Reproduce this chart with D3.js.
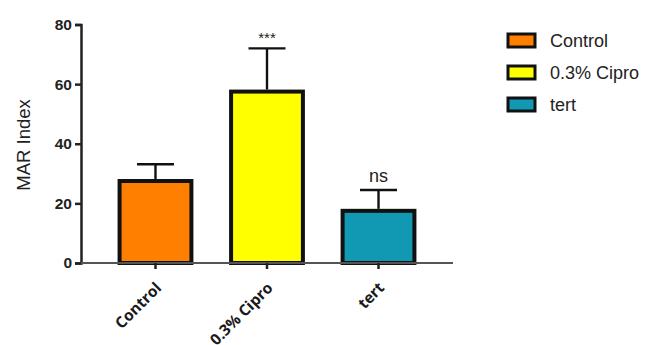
<!DOCTYPE html>
<html>
<head>
<meta charset="utf-8">
<script src="https://cdn.jsdelivr.net/npm/d3@7"></script>
<style>
  html, body { margin: 0; padding: 0; background: #fff; }
  svg { display: block; }
</style>
</head>
<body>
<svg id="chart" width="654" height="345"></svg>
<script>
// MAR index per treatment group (mean and upper SEM)
const categories = ["Control", "0.3% Cipro", "tert"];
const means = [27.5, 57.5, 17.5];
const errors = [5.6, 14.5, 7];
const significance = ["", "***", "ns"];
const colors = ["#FF8000", "#FFFF00", "#1199B4"];
const yTicks = [0, 20, 40, 60, 80];

const svg = d3.select("#chart");
const font = "'Liberation Sans', Arial, sans-serif";
const labelFont = "'Open Sans', 'Liberation Sans', sans-serif";

const x = d3.scaleBand()
  .domain(categories)
  .range([81, 453])
  .paddingInner(0.32)
  .paddingOuter(0.328);

const y = d3.scaleLinear().domain([0, 80]).range([263, 24.5]);

// Y axis
const yAxis = svg.append("g")
  .attr("transform", "translate(81,0)")
  .call(d3.axisLeft(y).tickValues(yTicks).tickSize(6).tickPadding(3));
yAxis.select(".domain").attr("stroke", "#222").attr("stroke-width", 2.5);
yAxis.selectAll(".tick line").attr("stroke", "#222").attr("stroke-width", 2.5);
yAxis.selectAll(".tick text")
  .attr("font-family", font).attr("font-weight", "bold")
  .attr("font-size", 15.5).attr("fill", "#222");

// Bars
svg.append("g").selectAll("rect")
  .data(categories)
  .join("rect")
  .attr("x", d => x(d) + 2)
  .attr("width", x.bandwidth() - 4)
  .attr("y", (d, i) => y(means[i]))
  .attr("height", (d, i) => y(0) - y(means[i]))
  .attr("fill", (d, i) => colors[i])
  .attr("stroke", "#111")
  .attr("stroke-width", 4);

// Upper error bars
const eb = svg.append("g").attr("stroke", "#111").attr("stroke-width", 2.4);
categories.forEach((c, i) => {
  const cx = x(c) + x.bandwidth() / 2;
  const top = y(means[i] + errors[i]);
  eb.append("line").attr("x1", cx).attr("x2", cx)
    .attr("y1", y(means[i]) - 2).attr("y2", top);
  eb.append("line").attr("x1", cx - 18.5).attr("x2", cx + 18.5)
    .attr("y1", top).attr("y2", top);
  if (significance[i]) {
    svg.append("text")
      .attr("x", cx)
      .attr("y", top - (significance[i] === "***" ? 5 : 8))
      .attr("text-anchor", "middle")
      .attr("font-family", font)
      .attr("font-size", significance[i] === "***" ? 15 : 18)
      .attr("fill", "#222")
      .text(significance[i]);
  }
});

// X axis
const xAxis = svg.append("g")
  .attr("transform", "translate(0,263)")
  .call(d3.axisBottom(x).tickSize(6).tickSizeOuter(0));
xAxis.select(".domain").attr("stroke", "#555").attr("stroke-width", 2).attr("d", "M81,0H453");
xAxis.selectAll(".tick line").attr("stroke", "#222").attr("stroke-width", 2.5);
xAxis.selectAll(".tick text")
  .attr("font-family", labelFont).attr("font-weight", "bold")
  .attr("font-size", 15.5).attr("fill", "#1a1a1a")
  .attr("text-anchor", "end")
  .attr("x", 0).attr("y", 0)
  .attr("dy", "0.35em")
  .attr("transform", "translate(3,22) rotate(-45)");

// Y title
svg.append("text")
  .attr("transform", "translate(30,145) rotate(-90)")
  .attr("text-anchor", "middle")
  .attr("font-family", font)
  .attr("font-size", 18.5)
  .attr("fill", "#222")
  .text("MAR Index");

// Legend
const legend = svg.append("g").attr("transform", "translate(508,0)");
categories.forEach((c, i) => {
  const cy = 40.5 + i * 32;
  legend.append("rect")
    .attr("x", 0).attr("y", cy - 6.5)
    .attr("width", 27).attr("height", 13)
    .attr("fill", colors[i])
    .attr("stroke", "#111").attr("stroke-width", 3);
  legend.append("text")
    .attr("x", 42).attr("y", cy)
    .attr("dy", "0.35em")
    .attr("font-family", font)
    .attr("font-size", 18)
    .attr("fill", "#222")
    .text(c);
});
</script>
</body>
</html>
